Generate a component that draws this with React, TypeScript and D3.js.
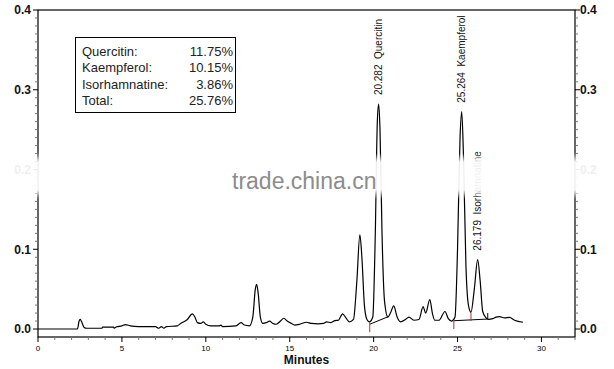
import React from "react";
import * as d3 from "d3";

// ---- data ----
const times = [0, 2.35, 2.45, 2.52, 2.6, 2.75, 2.9, 3.8, 3.85, 4.5, 4.55, 4.65, 5.0, 5.2, 5.5, 6.0, 7.0, 7.2, 7.35, 7.5, 7.65, 8.3, 8.5, 8.9, 9.2, 9.35, 9.5, 9.7, 9.85, 10.0, 10.3, 10.8, 10.9, 11.0, 11.8, 12.1, 12.3, 12.6, 12.8, 12.95, 13.03, 13.12, 13.25, 13.4, 13.6, 13.8, 14.0, 14.2, 14.45, 14.65, 14.85, 15.1, 15.3, 15.6, 16.0, 16.3, 16.7, 17.0, 17.2, 17.45, 17.7, 17.9, 18.15, 18.35, 18.55, 18.8, 19.0, 19.18, 19.3, 19.45, 19.6, 19.75, 19.95, 20.1, 20.22, 20.3, 20.38, 20.5, 20.65, 20.85, 21.0, 21.2, 21.4, 21.6, 21.9, 22.1, 22.4, 22.7, 22.95, 23.1, 23.35, 23.5, 23.65, 23.9, 24.25, 24.45, 24.65, 24.85, 25.0, 25.15, 25.25, 25.35, 25.5, 25.65, 25.8, 26.0, 26.2, 26.35, 26.5, 26.7, 26.85, 27.1, 27.3, 27.5, 27.8, 28.1, 28.4, 28.9];
const absorbance = [0, 0, 0.010, 0.012, 0.009, 0.002, 0.001, 0.001, 0.0025, 0.0025, 0.001, 0.0025, 0.004, 0.0055, 0.004, 0.003, 0.003, 0.001, 0.003, 0.001, 0.003, 0.004, 0.007, 0.012, 0.019, 0.015, 0.008, 0.007, 0.009, 0.006, 0.004, 0.004, 0.005, 0.003, 0.004, 0.008, 0.005, 0.004, 0.015, 0.050, 0.056, 0.045, 0.015, 0.007, 0.008, 0.010, 0.007, 0.006, 0.010, 0.0135, 0.010, 0.007, 0.005, 0.006, 0.0085, 0.007, 0.0065, 0.007, 0.009, 0.008, 0.0105, 0.011, 0.019, 0.014, 0.009, 0.012, 0.060, 0.118, 0.090, 0.030, 0.012, 0.009, 0.015, 0.120, 0.260, 0.282, 0.250, 0.120, 0.035, 0.015, 0.020, 0.029, 0.015, 0.009, 0.012, 0.015, 0.011, 0.012, 0.028, 0.020, 0.037, 0.020, 0.011, 0.011, 0.022, 0.013, 0.010, 0.015, 0.100, 0.240, 0.2725, 0.220, 0.080, 0.030, 0.021, 0.050, 0.087, 0.060, 0.022, 0.014, 0.012, 0.013, 0.015, 0.0155, 0.014, 0.0145, 0.011, 0.0085];

// integration baselines: [t1, v1, t2, v2]
const baselines = [
  [19.77, 0.006, 20.86, 0.0154],
  [24.78, 0.0104, 26.8, 0.0125],
];
// drop markers
const markerTimes = [19.77, 24.78, 25.8, 26.8];
const markerLow = [-0.004, 0.0, 0.010, 0.0125];
const markerHigh = [0.009, 0.011, 0.020, 0.020];
const markerRed = [true, true, true, false];

const peakLabels = ["20.282  Quercitin", "25.264  Kaempferol", "26.179  Isorhamnatine"];
const peakTimes = [20.282, 25.264, 26.179];
const peakHeights = [0.282, 0.2725, 0.087];

const legendNames = ["Quercitin:", "Kaempferol:", "Isorhamnatine:", "Total:"];
const legendValues = ["11.75%", "10.15%", "3.86%", "25.76%"];

const yTicks = [0.0, 0.1, 0.2, 0.3, 0.4];
const xTicks = [0, 5, 10, 15, 20, 25, 30];

const W = 614, H = 369;
const left = 38, right = 575, top = 10, bottom = 337;

export default function App() {
  const x = d3.scaleLinear().domain([0, 32]).range([left, right]);
  const y = d3.scaleLinear().domain([-0.01, 0.4]).range([bottom, top]);
  const pts: [number, number][] = times.map((t, i) => [t, absorbance[i]]);
  const line = d3.line<[number, number]>().x(d => x(d[0])).y(d => y(d[1])).curve(d3.curveMonotoneX);
  const minorY = d3.range(0, 41).map(i => i / 100).filter(v => y(v) >= top);
  const minorX = d3.range(0, 33);
  const font = "'Liberation Sans', Arial, sans-serif";

  return (
    <svg width={W} height={H} style={{ position: "absolute", left: 0, top: 0, background: "#fff" }} fontFamily={font}>
      <defs>
        <linearGradient id="band" x1="0" y1="0" x2="0" y2="1">
          <stop offset="0" stopColor="#fff" stopOpacity={0} />
          <stop offset="0.2" stopColor="#fff" stopOpacity={0.93} />
          <stop offset="0.8" stopColor="#fff" stopOpacity={0.93} />
          <stop offset="1" stopColor="#fff" stopOpacity={0} />
        </linearGradient>
      </defs>
      <rect width={W} height={H} fill="#fff" />
      {/* frame */}
      <rect x={left} y={top} width={right - left} height={bottom - top} fill="none" stroke="#000" strokeWidth={1.2} />
      {/* y ticks left & right */}
      {minorY.map((v, i) => {
        const major = Math.round(v * 100) % 10 === 0;
        return (
          <g key={"yt" + i}>
            <line x1={left - (major ? 5 : 3)} x2={left} y1={y(v)} y2={y(v)} stroke={major ? "#000" : "#777"} strokeWidth={1} />
            <line x1={right} x2={right + (major ? 5 : 3)} y1={y(v)} y2={y(v)} stroke={major ? "#000" : "#777"} strokeWidth={1} />
          </g>
        );
      })}
      {yTicks.map(v => (
        <g key={"yl" + v}>
          <text x={31} y={y(v)} dy="0.36em" textAnchor="end" fontSize={12} fontWeight="bold" fill="#111">{v.toFixed(1)}</text>
          <text x={580} y={y(v)} dy="0.36em" textAnchor="start" fontSize={12} fontWeight="bold" fill="#111">{v.toFixed(1)}</text>
        </g>
      ))}
      {/* x ticks */}
      {minorX.map(t => (
        <line key={"xt" + t} x1={x(t)} x2={x(t)} y1={bottom} y2={bottom + (t % 5 === 0 ? 5 : 3)} stroke={t % 5 === 0 ? "#000" : "#777"} strokeWidth={1} />
      ))}
      {xTicks.map(t => (
        <text key={"xl" + t} x={x(t)} y={351} textAnchor="middle" fontSize={8} fill="#000">{t}</text>
      ))}
      <text x={(left + right) / 2} y={364} textAnchor="middle" fontSize={12} fontWeight="bold" fill="#111">Minutes</text>

      {/* chromatogram */}
      <path d={line(pts) || ""} fill="none" stroke="#000" strokeWidth={1.2} />
      {baselines.map((b, i) => (
        <line key={"bl" + i} x1={x(b[0])} y1={y(b[1])} x2={x(b[2])} y2={y(b[3])} stroke="#000" strokeWidth={1} />
      ))}
      {markerTimes.map((t, i) => (
        <line key={"mk" + i} x1={x(t)} x2={x(t)} y1={y(markerLow[i])} y2={y(markerHigh[i])} stroke={markerRed[i] ? "#b03030" : "#000"} strokeWidth={1} />
      ))}

      {/* peak labels */}
      {peakLabels.map((s, i) => {
        const px = x(peakTimes[i]);
        const py = y(peakHeights[i]) - 9;
        return (
          <text key={"pl" + i} transform={`translate(${px},${py}) rotate(-90)`} dy="0.35em" fontSize={10} fill="#111" style={{ whiteSpace: "pre" }}>{s}</text>
        );
      })}

      {/* legend */}
      <rect x={75.5} y={37.5} width={160} height={75} fill="#fff" stroke="#000" strokeWidth={1} />
      {legendNames.map((n, i) => (
        <g key={"lg" + i}>
          <text x={82} y={56 + i * 16.3} fontSize={13} fill="#222">{n}</text>
          <text x={233} y={56 + i * 16.3} fontSize={13} textAnchor="end" fill="#222">{legendValues[i]}</text>
        </g>
      ))}

      {/* watermark */}
      <rect x={0} y={153} width={W} height={46} fill="url(#band)" />
      <text x={232} y={189} fontSize={23} fill="#8c8c8c">trade.china.cn</text>
    </svg>
  );
}
